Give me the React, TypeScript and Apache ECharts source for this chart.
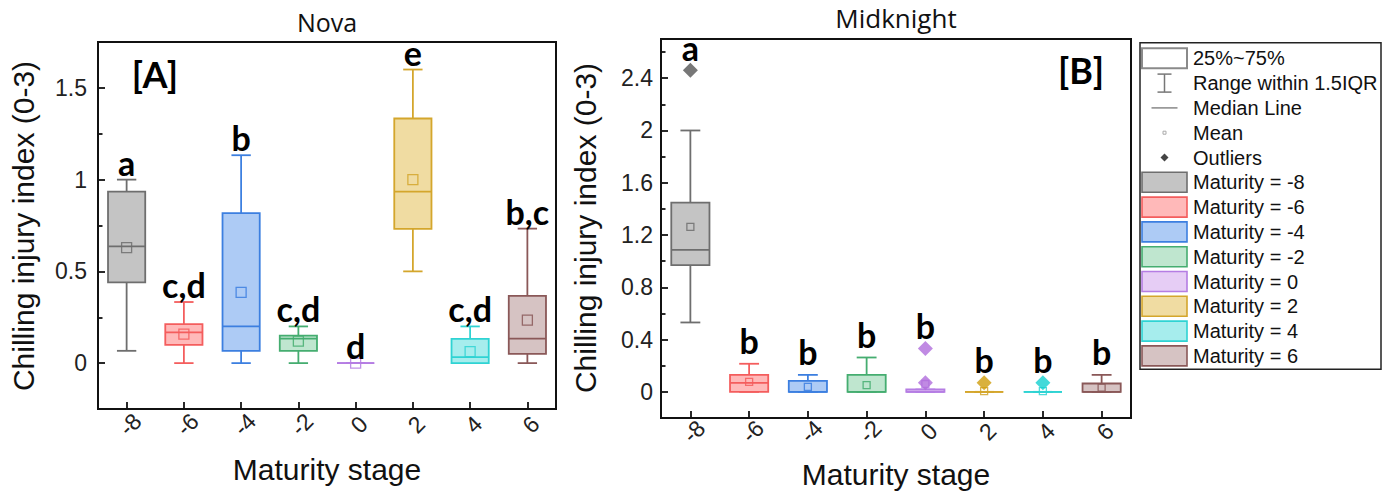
import { useEffect, useRef } from 'react';
import * as echarts from 'echarts';

const stages = ['-8', '-6', '-4', '-2', '0', '2', '4', '6'];
const fillColors = ['#c4c4c4', '#ffb9b9', '#adcbf5', '#bfe6cf', '#e6cdf5', '#f0dca2', '#a6eded', '#d6c3c3'];
const lineColors = ['#6e6e6e', '#f45d5d', '#3c7fe0', '#45ad70', '#b57de3', '#d4a62c', '#2fd3d3', '#8a5858'];
const outlierColors = ['#555555', '#f45d5d', '#3c7fe0', '#45ad70', '#b06ddc', '#cf9d0c', '#14cfcf', '#8a5858'];

// Panel A – Nova
const novaMin = [0.067, 0, 0, 0, 0, 0.5, 0, 0];
const novaQ1 = [0.44, 0.1, 0.067, 0.067, 0, 0.732, 0, 0.05];
const novaMedian = [0.636, 0.168, 0.2, 0.133, 0, 0.935, 0.033, 0.133];
const novaQ3 = [0.935, 0.213, 0.817, 0.15, 0, 1.333, 0.132, 0.366];
const novaMax = [1.0, 0.333, 1.133, 0.2, 0, 1.6, 0.2, 0.733];
const novaMean = [0.629, 0.158, 0.386, 0.12, 0, 1.0, 0.063, 0.234];
const novaLetters = ['a', 'c,d', 'b', 'c,d', 'd', 'e', 'c,d', 'b,c'];

// Panel B – Midknight
const midMin = [0.531, 0, 0, 0, 0, 0, 0, 0];
const midQ1 = [0.969, 0, 0, 0, 0, 0, 0, 0];
const midMedian = [1.087, 0.069, 0, 0, 0, 0, 0, 0];
const midQ3 = [1.448, 0.13, 0.084, 0.13, 0.018, 0, 0, 0.064];
const midMax = [2.0, 0.215, 0.13, 0.263, 0.018, 0, 0, 0.13];
const midMean = [1.262, 0.077, 0.038, 0.051, 0.06, 0.005, 0.005, 0.033];
const midLetters = ['a', 'b', 'b', 'b', 'b', 'b', 'b', 'b'];
const midOutlierStage = [0, 4, 4, 5, 6];
const midOutlierValue = [2.46, 0.332, 0.069, 0.069, 0.069];

// Axis ticks
const novaMajor = [0, 0.5, 1, 1.5];
const novaMinor = [0.25, 0.75, 1.25];
const midMajor = [0, 0.4, 0.8, 1.2, 1.6, 2, 2.4];
const midMinor = [0.2, 0.6, 1.0, 1.4, 1.8, 2.2, 2.6];

const xTitle = 'Maturity stage';
const yTitle = 'Chilling injury index (0-3)';
const legendTop = ['25%~75%', 'Range within 1.5IQR', 'Median Line', 'Mean', 'Outliers'];
const legendStages = stages.map((s) => `Maturity = ${s}`);

const ARIAL = '"Liberation Sans", Arial, sans-serif';
const LETTER_FONT = 'bold 34px Lato, "Open Sans", sans-serif';

function boxSeries(
  gridIndex: number,
  yAxisIndex: number,
  mins: number[], q1s: number[], meds: number[], q3s: number[], maxs: number[], means: number[],
  letters: string[], tops: number[], meanSize: number, letterGap: number
) {
  const data = stages.map((_, i) => [i, mins[i], q1s[i], meds[i], q3s[i], maxs[i], means[i], tops[i]]);
  return {
    type: 'custom',
    xAxisIndex: gridIndex,
    yAxisIndex,
    data,
    z: 2,
    renderItem: (params: any, api: any) => {
      const i = api.value(0);
      const y = (v: number) => api.coord([i, v])[1];
      const cx = api.coord([i, 0])[0];
      const band = api.size([1, 0])[0];
      const bw = band * 0.65;
      const cap = bw * 0.52;
      const stroke = lineColors[i];
      const fill = fillColors[i];
      const yMin = y(api.value(1));
      const yQ1 = y(api.value(2));
      const yMed = y(api.value(3));
      const yQ3 = y(api.value(4));
      const yMax = y(api.value(5));
      const yMean = y(api.value(6));
      const yTop = y(api.value(7));
      const ls = { stroke, lineWidth: 1.8 };
      return {
        type: 'group',
        children: [
          { type: 'line', shape: { x1: cx, y1: yQ3, x2: cx, y2: yMax }, style: ls },
          { type: 'line', shape: { x1: cx, y1: yQ1, x2: cx, y2: yMin }, style: ls },
          { type: 'line', shape: { x1: cx - cap / 2, y1: yMax, x2: cx + cap / 2, y2: yMax }, style: ls },
          { type: 'line', shape: { x1: cx - cap / 2, y1: yMin, x2: cx + cap / 2, y2: yMin }, style: ls },
          {
            type: 'rect',
            shape: { x: cx - bw / 2, y: yQ3, width: bw, height: yQ1 - yQ3 },
            style: { fill, stroke, lineWidth: 1.8 },
          },
          { type: 'line', shape: { x1: cx - bw / 2, y1: yMed, x2: cx + bw / 2, y2: yMed }, style: ls },
          {
            type: 'rect',
            shape: { x: cx - meanSize / 2, y: yMean - meanSize / 2, width: meanSize, height: meanSize },
            style: { fill: 'none', stroke, lineWidth: 1.3, opacity: 0.85 },
          },
          {
            type: 'text',
            x: cx,
            y: yTop - letterGap,
            style: {
              text: letters[params.dataIndex],
              font: LETTER_FONT,
              fill: '#000',
              align: 'center',
              verticalAlign: 'middle',
              textAlign: 'center',
              textVerticalAlign: 'middle',
            },
          },
        ],
      };
    },
  };
}

function xAxisCfg(gridIndex: number, labelMargin: number) {
  return {
    type: 'category',
    gridIndex,
    data: stages,
    boundaryGap: true,
    position: 'bottom',
    axisLine: { show: true, onZero: false, lineStyle: { color: '#111', width: 2 } },
    axisTick: { show: true, inside: true, alignWithLabel: true, length: 7, lineStyle: { color: '#111', width: 1.8 } },
    axisLabel: {
      rotate: 45,
      align: 'center',
      verticalAlign: 'middle',
      margin: labelMargin,
      padding: [10, 0, 0, 10],
      fontFamily: ARIAL,
      fontSize: 23,
      color: '#222',
    },
    splitLine: { show: false },
  };
}

function yAxesCfg(gridIndex: number, min: number, max: number, major: number[], minor: number[], labelMargin: number) {
  return [
    {
      type: 'value',
      gridIndex,
      position: 'left',
      min,
      max,
      axisLine: { show: true, onZero: false, lineStyle: { color: '#111', width: 2 } },
      axisTick: { show: true, inside: true, length: 7, customValues: major, lineStyle: { color: '#111', width: 1.8 } },
      axisLabel: { customValues: major, margin: labelMargin, fontFamily: ARIAL, fontSize: 23, color: '#222' },
      splitLine: { show: false },
    },
    {
      type: 'value',
      gridIndex,
      position: 'left',
      min,
      max,
      axisLine: { show: false, onZero: false },
      axisTick: { show: true, inside: true, length: 4.5, customValues: minor, lineStyle: { color: '#111', width: 1.8 } },
      axisLabel: { show: false },
      splitLine: { show: false },
    },
  ];
}

function centeredText(text: string, x: number, y: number, font: string, rotation = 0) {
  return {
    type: 'text',
    x,
    y,
    rotation,
    style: {
      text,
      font,
      fill: '#111',
      align: 'center',
      verticalAlign: 'middle',
      textAlign: 'center',
      textVerticalAlign: 'middle',
    },
  };
}

function legendGraphics() {
  const els: any[] = [];
  const x0 = 1140;
  const y0 = 42.7;
  els.push({
    type: 'rect',
    shape: { x: x0, y: y0, width: 241, height: 326.6 },
    style: { fill: '#fff', stroke: '#222', lineWidth: 1.5 },
    z: 10,
  });
  const sx = 1142;
  const sw = 45;
  const scx = sx + sw / 2;
  const textX = 1193;
  const rowY = (k: number) => 58.3 + k * 24.8;
  els.push({
    type: 'rect',
    shape: { x: sx, y: rowY(0) - 10, width: sw, height: 20 },
    style: { fill: '#fff', stroke: '#8a8a8a', lineWidth: 2 },
    z: 11,
  });
  const ry = rowY(1);
  const rs = { stroke: '#777', lineWidth: 1.5 };
  els.push({ type: 'line', shape: { x1: scx, y1: ry - 9, x2: scx, y2: ry + 9 }, style: rs, z: 11 });
  els.push({ type: 'line', shape: { x1: scx - 7, y1: ry - 9, x2: scx + 7, y2: ry - 9 }, style: rs, z: 11 });
  els.push({ type: 'line', shape: { x1: scx - 7, y1: ry + 9, x2: scx + 7, y2: ry + 9 }, style: rs, z: 11 });
  const my = rowY(2);
  els.push({ type: 'line', shape: { x1: scx - 13, y1: my, x2: scx + 13, y2: my }, style: { stroke: '#888', lineWidth: 1.5 }, z: 11 });
  const mny = rowY(3);
  els.push({ type: 'rect', shape: { x: scx - 1.5, y: mny - 1.5, width: 3, height: 3 }, style: { fill: 'none', stroke: '#aaa', lineWidth: 1 }, z: 11 });
  const oy = rowY(4);
  els.push({
    type: 'polygon',
    shape: { points: [[scx, oy - 4], [scx + 4, oy], [scx, oy + 4], [scx - 4, oy]] },
    style: { fill: '#444' },
    z: 11,
  });
  legendTop.forEach((t, k) => {
    els.push({
      type: 'text',
      x: textX,
      y: rowY(k),
      style: { text: t, font: `20px ${ARIAL}`, fill: '#111', verticalAlign: 'middle', textVerticalAlign: 'middle' },
      z: 11,
    });
  });
  legendStages.forEach((t, i) => {
    const yy = rowY(5 + i);
    els.push({
      type: 'rect',
      shape: { x: sx, y: yy - 10, width: sw, height: 20 },
      style: { fill: fillColors[i], stroke: lineColors[i], lineWidth: 1.6 },
      z: 11,
    });
    els.push({
      type: 'text',
      x: textX,
      y: yy,
      style: { text: t, font: `20px ${ARIAL}`, fill: '#111', verticalAlign: 'middle', textVerticalAlign: 'middle' },
      z: 11,
    });
  });
  return els;
}

export default function App() {
  const ref = useRef<HTMLDivElement>(null);
  useEffect(() => {
    if (!ref.current) return;
    const chart = echarts.init(ref.current, null, { renderer: 'svg' });
    const outlierData = midOutlierStage.map((s, k) => ({
      value: [s, midOutlierValue[k]],
      itemStyle: { color: outlierColors[s] },
    }));
    const novaTops = novaMax.slice();
    const midTops = midMax.map((v, i) => {
      let t = v;
      midOutlierStage.forEach((s, k) => {
        if (s === i && midOutlierValue[k] > t) t = midOutlierValue[k];
      });
      return t;
    });
    const gridCommon = {
      show: true,
      borderColor: '#111',
      borderWidth: 2,
      backgroundColor: 'transparent',
      containLabel: false,
      outerBoundsMode: 'none',
    };
    const option: any = {
      animation: false,
      backgroundColor: '#fff',
      grid: [
        { ...gridCommon, left: 98, top: 42, width: 458, height: 367 },
        { ...gridCommon, left: 661, top: 39, width: 470, height: 379 },
      ],
      xAxis: [xAxisCfg(0, 19), xAxisCfg(1, 17)],
      yAxis: [
        ...yAxesCfg(0, -0.25, 1.75, novaMajor, novaMinor, 11),
        ...yAxesCfg(1, -0.2, 2.7, midMajor, midMinor, 8),
      ],
      series: [
        boxSeries(0, 0, novaMin, novaQ1, novaMedian, novaQ3, novaMax, novaMean, novaLetters, novaTops, 10, 17.5),
        boxSeries(1, 2, midMin, midQ1, midMedian, midQ3, midMax, midMean, midLetters, midTops, 7, 23),
        {
          type: 'scatter',
          xAxisIndex: 1,
          yAxisIndex: 2,
          symbol: 'diamond',
          symbolSize: [15, 15],
          data: outlierData,
          z: 5,
        },
      ],
      graphic: [
        centeredText('Nova', 327, 22, '25px "Open Sans", sans-serif'),
        centeredText('Midknight', 896, 18, '26px "Open Sans", sans-serif'),
        centeredText(xTitle, 327, 469.5, `30px ${ARIAL}`),
        centeredText(xTitle, 896, 474.5, `30px ${ARIAL}`),
        centeredText(yTitle, 23, 226, `30px ${ARIAL}`, Math.PI / 2),
        centeredText(yTitle, 585, 228, `30px ${ARIAL}`, Math.PI / 2),
        {
          type: 'text',
          x: 155,
          y: 74,
          style: { text: '[A]', font: 'bold 36px Lato, "Open Sans", sans-serif', fill: '#000', align: 'center', verticalAlign: 'middle', textAlign: 'center', textVerticalAlign: 'middle' },
        },
        {
          type: 'text',
          x: 1081,
          y: 70,
          style: { text: '[B]', font: 'bold 36px Lato, "Open Sans", sans-serif', fill: '#000', align: 'center', verticalAlign: 'middle', textAlign: 'center', textVerticalAlign: 'middle' },
        },
        ...legendGraphics(),
      ],
    };
    chart.setOption(option);
    return () => chart.dispose();
  }, []);
  return (
    <div
      ref={ref}
      style={{ position: 'fixed', left: 0, top: 0, width: 1394, height: 495, background: '#fff' }}
    />
  );
}
